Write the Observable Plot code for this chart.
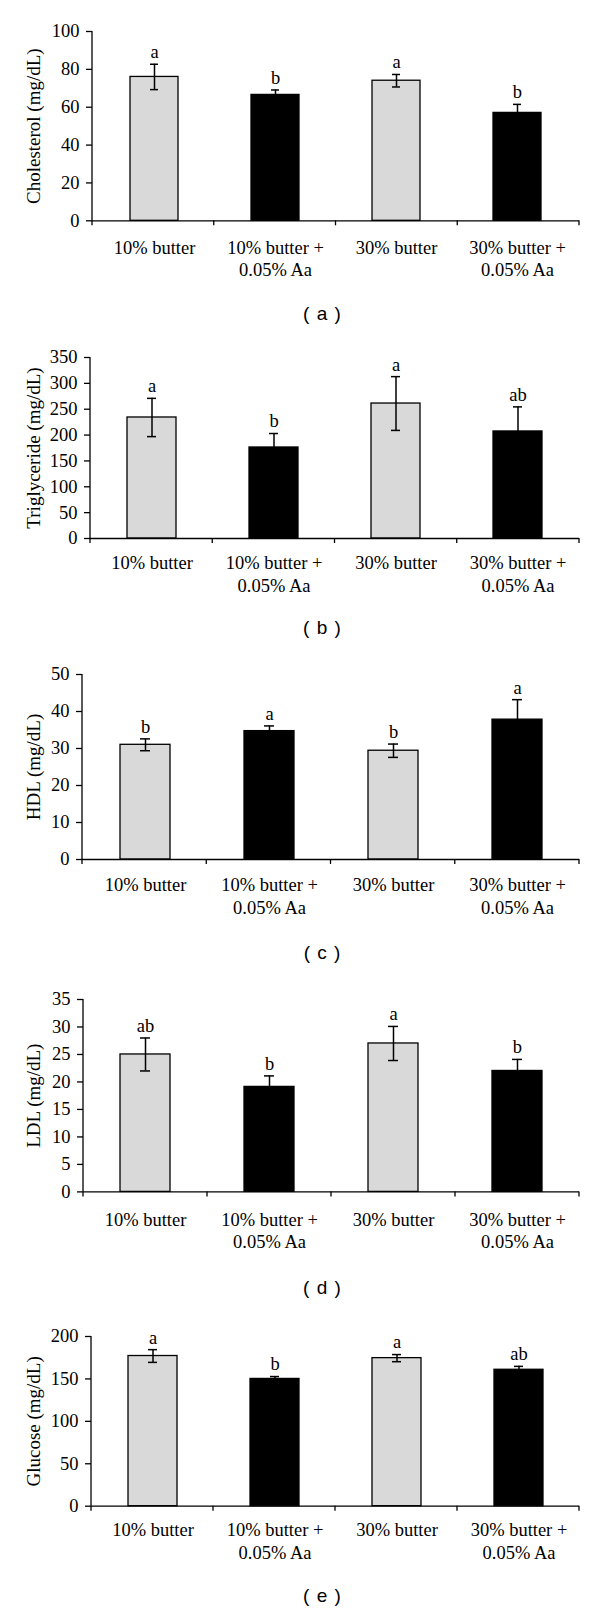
<!DOCTYPE html>
<html>
<head>
<meta charset="utf-8">
<script src="https://cdn.jsdelivr.net/npm/d3@7"></script>
<script src="https://cdn.jsdelivr.net/npm/@observablehq/plot@0.6"></script>
<style>
html, body { margin: 0; padding: 0; background: #fff; }
#root { position: relative; width: 600px; height: 1611px; overflow: hidden; background: #fff; }
.panel { position: absolute; left: 0; }
.cap { position: absolute; left: 0; width: 644px; text-align: center; font-family: "Liberation Sans", Arial, sans-serif; font-size: 19px; word-spacing: 2px; color: #000; line-height: 1; transform: translateY(-50%); }
</style>
</head>
<body>
<div id="root"></div>
<script>
// ---- data ----
const categories = ["10% butter", "10% butter +\n0.05% Aa", "30% butter", "30% butter +\n0.05% Aa"];
const supplement = ["none", "Aa", "none", "Aa"];

const cholesterolMean = [76, 66.5, 74, 57];
const cholesterolSE = [6.7, 2.6, 3.3, 4.5];
const cholesterolLetters = ["a", "b", "a", "b"];
const cholesterolTicks = [0, 20, 40, 60, 80, 100];

const triglycerideMean = [234, 176, 261, 207];
const triglycerideSE = [37, 27, 52, 47.5];
const triglycerideLetters = ["a", "b", "a", "ab"];
const triglycerideTicks = [0, 50, 100, 150, 200, 250, 300, 350];

const hdlMean = [31.0, 34.7, 29.4, 37.8];
const hdlSE = [1.6, 1.4, 1.8, 5.4];
const hdlLetters = ["b", "a", "b", "a"];
const hdlTicks = [0, 10, 20, 30, 40, 50];

const ldlMean = [25, 19.1, 27, 22];
const ldlSE = [3, 2, 3.1, 2.1];
const ldlLetters = ["ab", "b", "a", "b"];
const ldlTicks = [0, 5, 10, 15, 20, 25, 30, 35];

const glucoseMean = [177, 150, 174.5, 160.8];
const glucoseSE = [7.5, 2.8, 4.2, 4];
const glucoseLetters = ["a", "b", "a", "ab"];
const glucoseTicks = [0, 50, 100, 150, 200];

const titles = ["Cholesterol (mg/dL)", "Triglyceride (mg/dL)", "HDL (mg/dL)", "LDL (mg/dL)", "Glucose (mg/dL)"];
const tags = ["a", "b", "c", "d", "e"];

// ---- layout (pixel positions of each panel) ----
const layout = [
  {top: 30.7, base: 220, left: 92, labelGap: 24, caption: 313},
  {top: 357.3, base: 538.3, left: 90, labelGap: 21.7, caption: 626.7},
  {top: 674, base: 859, left: 82, labelGap: 22.7, caption: 951.7},
  {top: 999.3, base: 1191.7, left: 83, labelGap: 25, caption: 1287},
  {top: 1336, base: 1505.7, left: 91, labelGap: 21, caption: 1595}
];

const panels = [
  {mean: cholesterolMean, se: cholesterolSE, letters: cholesterolLetters, ticks: cholesterolTicks},
  {mean: triglycerideMean, se: triglycerideSE, letters: triglycerideLetters, ticks: triglycerideTicks},
  {mean: hdlMean, se: hdlSE, letters: hdlLetters, ticks: hdlTicks},
  {mean: ldlMean, se: ldlSE, letters: ldlLetters, ticks: ldlTicks},
  {mean: glucoseMean, se: glucoseSE, letters: glucoseLetters, ticks: glucoseTicks}
];

const root = document.getElementById("root");
const FS = 18.5;
const RIGHT = 21;

panels.forEach((p, k) => {
  const L = layout[k];
  const data = categories.map((c, i) => ({
    cat: c, sup: supplement[i], mean: p.mean[i],
    lo: p.mean[i] - p.se[i], hi: p.mean[i] + p.se[i], letter: p.letters[i]
  }));
  const yMax = p.ticks[p.ticks.length - 1];
  const mt = 28, mb = 62;
  const height = (L.base - L.top) + mt + mb;
  const plot = Plot.plot({
    width: 600,
    height,
    marginTop: mt,
    marginBottom: mb,
    marginLeft: L.left,
    marginRight: RIGHT,
    style: {fontFamily: '"Liberation Serif", "Times New Roman", serif', fontSize: FS + "px", color: "#000", background: "#fff", overflow: "visible"},
    x: {domain: categories, paddingInner: 0.6, paddingOuter: 0.3, label: null},
    y: {domain: [0, yMax], label: null},
    color: {domain: ["none", "Aa"], range: ["#d9d9d9", "#000000"]},
    marks: [
      Plot.barY(data, {x: "cat", y: "mean", fill: "sup", stroke: "#000", strokeWidth: 1.3}),
      Plot.ruleX(data, {x: "cat", y1: "lo", y2: "hi", stroke: "#000", strokeWidth: 1.5}),
      Plot.tickY(data, {x: "cat", y: "hi", stroke: "#000", strokeWidth: 1.5, insetLeft: 20, insetRight: 20}),
      Plot.tickY(data, {x: "cat", y: "lo", stroke: "#000", strokeWidth: 1.5, insetLeft: 20, insetRight: 20}),
      Plot.text(data, {x: "cat", y: "hi", text: "letter", dy: -12, fontSize: FS, fill: "#000"}),
      Plot.ruleY([0], {stroke: "#000", strokeWidth: 1.3}),
      Plot.axisY({ticks: p.ticks, tickSize: 6, tickPadding: 7, label: null, fontSize: FS, strokeWidth: 1.3}),
      Plot.axisX({tickSize: 0, tickPadding: L.labelGap - 6.6, lineHeight: 1.2, label: null, fontSize: FS}),
      Plot.text([titles[k]], {frameAnchor: "left", textAnchor: "middle", lineAnchor: "middle", text: (d) => d, rotate: -90, dx: 33 - L.left, fontSize: 19, fill: "#000"})
    ]
  });

  // y-axis line and category boundary ticks, positioned with the plot's own scales
  const sx = plot.scale("x"), sy = plot.scale("y");
  const r0 = sx.range[0], r1 = sx.range[1];
  const step = (r1 - r0) / categories.length;
  const y0 = sy.apply(0), yTop = sy.apply(yMax);
  const g = d3.select(plot).append("g").attr("stroke", "#000").attr("stroke-width", 1.3);
  g.append("line").attr("x1", r0).attr("x2", r0).attr("y1", yTop).attr("y2", y0);
  d3.range(categories.length + 1).forEach((i) => {
    g.append("line").attr("x1", r0 + i * step).attr("x2", r0 + i * step).attr("y1", y0).attr("y2", y0 + 5);
  });

  const div = document.createElement("div");
  div.className = "panel";
  div.style.top = (L.top - mt) + "px";
  div.appendChild(plot);
  root.appendChild(div);

  const cap = document.createElement("div");
  cap.className = "cap";
  cap.style.top = L.caption + "px";
  cap.textContent = "( " + tags[k] + " )";
  root.appendChild(cap);
});
</script>
</body>
</html>
